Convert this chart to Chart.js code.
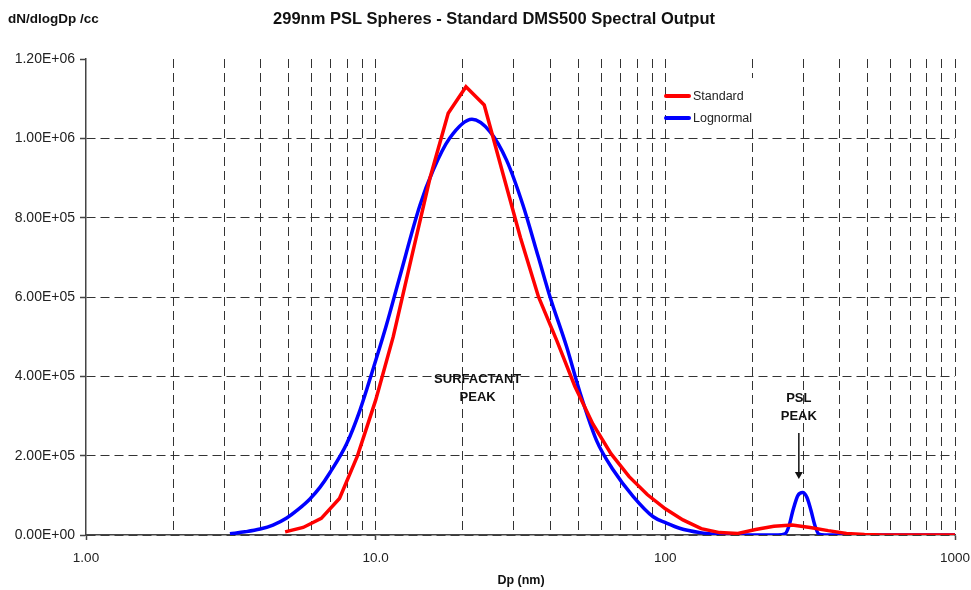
<!DOCTYPE html>
<html>
<head>
<meta charset="utf-8">
<script src="https://cdn.jsdelivr.net/npm/chart.js@4.4.0/dist/chart.umd.min.js"></script>
<style>
  html, body { margin: 0; padding: 0; background: #fff; }
</style>
</head>
<body>
<canvas id="myChart" width="971" height="590"></canvas>
<script>
// DMS500 size classes (nm) and the measured "Standard" spectrum
var sizesStd = [4.87, 5.62, 6.49, 7.50, 8.66, 10.0, 11.5, 13.3, 15.4, 17.8, 20.5, 23.7, 27.4, 31.6, 36.5, 42.2, 48.7, 56.2, 64.9, 75.0, 86.6, 100, 115, 133, 154, 178, 205, 237, 274, 316, 365, 422, 487, 562, 649, 750, 866, 1000];
var standard = [8e3, 1.9e4, 4.2e4, 9.2e4, 2.0e5, 3.4e5, 5.0e5, 7.0e5, 9.0e5, 1.063e6, 1.13e6, 1.084e6, 9.15e5, 7.5e5, 6.0e5, 4.9e5, 3.75e5, 2.8e5, 2.05e5, 1.47e5, 1.02e5, 6.6e4, 3.8e4, 1.6e4, 6e3, 4e3, 1.4e4, 2.2e4, 2.5e4, 1.9e4, 1.1e4, 4e3, 1e3, 0, 0, 0, 0, 0];

// lognormal fit
var sizesLog = [3.14, 3.54, 3.99, 4.42, 4.93, 5.39, 5.93, 6.42, 6.95, 7.94, 8.83, 9.81, 10.9, 12.1, 14.2, 15.8, 18.0, 21.5, 24.8, 28.3, 32.3, 36.4, 40.0, 45.6, 50.7, 57.9, 66.1, 77.5, 90.8, 101, 112, 132, 150, 181, 245, 259, 267, 276, 287, 298, 308, 318, 329, 339, 355, 400, 500, 700, 1000];
var lognormal = [3e3, 8e3, 1.5e4, 2.5e4, 4.3e4, 6.4e4, 9.1e4, 1.2e5, 1.57e5, 2.3e5, 3.15e5, 4.2e5, 5.3e5, 6.5e5, 8.3e5, 9.2e5, 1.0e6, 1.048e6, 1.017e6, 9.45e5, 8.3e5, 7.02e5, 6.0e5, 4.75e5, 3.6e5, 2.38e5, 1.64e5, 9.7e4, 4.6e4, 3.0e4, 1.7e4, 6e3, 2e3, 0, 0, 3e3, 2.2e4, 6.3e4, 1.0e5, 1.07e5, 9.5e4, 6.3e4, 2.2e4, 2e3, 0, 0, 0, 0, 0];

// axis ticks
var xTicks = [1, 2, 3, 4, 5, 6, 7, 8, 9, 10, 20, 30, 40, 50, 60, 70, 80, 90, 100, 200, 300, 400, 500, 600, 700, 800, 900, 1000];
var xMajor = [1, 10, 100, 1000];
var xTickLabels = ['1.00', '10.0', '100', '1000'];

function sci(v){
    if (v === 0) return '0.00E+00';
    var e = Math.floor(Math.log10(v) + 1e-9);
    var m = v / Math.pow(10, e);
    return m.toFixed(2) + 'E+' + String(e).padStart(2, '0');
}

function pts(xs, ys){
    return xs.map(function(x, i){ return {x: x, y: ys[i]}; });
}

var FONT = '"Liberation Sans", Arial, sans-serif';

// titles, legend and the two peak notes
var extras = {
    id: 'extras',
    afterDraw: function(chart){
        var ctx = chart.ctx;
        var xs = chart.scales.x, ys = chart.scales.y;
        ctx.save();
        ctx.fillStyle = '#111';
        ctx.textAlign = 'center';
        ctx.textBaseline = 'alphabetic';
        ctx.font = 'bold 16.5px ' + FONT;
        ctx.fillText('299nm PSL Spheres - Standard DMS500 Spectral Output', 494, 24);

        ctx.textAlign = 'left';
        ctx.font = 'bold 13.5px ' + FONT;
        ctx.fillText('dN/dlogDp /cc', 8, 23);

        ctx.textAlign = 'center';
        ctx.font = 'bold 12.5px ' + FONT;
        ctx.fillText('Dp (nm)', 521, 584);

        // notes
        ctx.textBaseline = 'middle';
        ctx.font = 'bold 13px ' + FONT;
        var sx = xs.getPixelForValue(22.5);
        ctx.fillText('SURFACTANT', sx, ys.getPixelForValue(3.91e5));
        ctx.fillText('PEAK', sx, ys.getPixelForValue(3.48e5));
        var px = xs.getPixelForValue(289);
        ctx.fillText('PSL', px, ys.getPixelForValue(3.45e5));
        ctx.fillText('PEAK', px, ys.getPixelForValue(3.0e5));

        // arrow
        var a0 = ys.getPixelForValue(2.57e5), a1 = ys.getPixelForValue(1.41e5);
        ctx.strokeStyle = '#111';
        ctx.lineWidth = 1.5;
        ctx.beginPath();
        ctx.moveTo(px, a0);
        ctx.lineTo(px, a1 - 6);
        ctx.stroke();
        ctx.beginPath();
        ctx.moveTo(px - 4, a1 - 7);
        ctx.lineTo(px + 4, a1 - 7);
        ctx.lineTo(px, a1);
        ctx.closePath();
        ctx.fill();

        // legend box (white, hides the grid behind it)
        ctx.fillStyle = '#fff';
        ctx.fillRect(667, 78, 96, 50);
        ctx.textAlign = 'left';
        ctx.font = '12.5px ' + FONT;
        chart.data.datasets.forEach(function(ds, i){
            var y = 96 + i * 22;
            ctx.strokeStyle = ds.borderColor;
            ctx.lineWidth = 4;
            ctx.lineCap = 'round';
            ctx.beginPath();
            ctx.moveTo(666, y);
            ctx.lineTo(689, y);
            ctx.stroke();
            ctx.fillStyle = '#222';
            ctx.fillText(ds.label, 693, y + 1);
        });
        ctx.restore();
    }
};

var ctx = document.getElementById('myChart').getContext('2d');
var myChart = new Chart(ctx, {
    type: 'line',
    data: {
        datasets: [{
            label: 'Standard',
            data: pts(sizesStd, standard),
            borderColor: '#ff0000',
            borderWidth: 3.5,
            pointRadius: 0,
            tension: 0,
            fill: false
        }, {
            label: 'Lognormal',
            data: pts(sizesLog, lognormal),
            borderColor: '#0000ff',
            borderWidth: 3.5,
            pointRadius: 0,
            cubicInterpolationMode: 'monotone',
            fill: false
        }]
    },
    options: {
        responsive: false,
        animation: false,
        devicePixelRatio: 1,
        layout: { padding: { top: 59, right: 16, left: 0, bottom: 0 } },
        plugins: {
            legend: { display: false },
            title: { display: false },
            tooltip: { enabled: false }
        },
        scales: {
            x: {
                type: 'logarithmic',
                min: 1,
                max: 1000,
                afterBuildTicks: function(s){
                    s.ticks = xTicks.map(function(v){ return {value: v}; });
                },
                afterFit: function(s){
                    s.height = 55;
                    s.paddingLeft = 0;
                    s.paddingRight = 0;
                },
                ticks: {
                    autoSkip: false,
                    maxRotation: 0,
                    padding: 10,
                    color: '#222',
                    font: { family: FONT, size: 13.5 },
                    callback: function(v){
                        var k = xMajor.indexOf(v);
                        return k >= 0 ? xTickLabels[k] : '';
                    }
                },
                grid: {
                    color: function(c){
                        return (c.tick && c.tick.value === 1) ? 'rgba(0,0,0,0)' : '#333';
                    },
                    lineWidth: 1,
                    tickLength: 5,
                    tickWidth: 1.5,
                    tickColor: function(c){
                        return (c.tick && xMajor.indexOf(c.tick.value) >= 0) ? '#444' : 'rgba(0,0,0,0)';
                    }
                },
                border: { display: true, color: '#444', width: 1.5, dash: [9, 5] }
            },
            y: {
                min: 0,
                max: 1.2e6,
                afterFit: function(s){
                    s.width = 86;
                    s.paddingTop = 0;
                    s.paddingBottom = 0;
                },
                ticks: {
                    stepSize: 2e5,
                    padding: 5,
                    color: '#222',
                    font: { family: FONT, size: 14 },
                    callback: function(v){ return sci(v); }
                },
                grid: {
                    color: function(c){
                        return (c.tick && c.tick.value >= 1.2e6) ? 'rgba(0,0,0,0)' : '#333';
                    },
                    lineWidth: 1,
                    tickLength: 6,
                    tickWidth: 1.5,
                    tickColor: '#444'
                },
                border: { display: true, color: '#444', width: 1.5, dash: [9, 5] }
            }
        }
    },
    plugins: [extras]
});
</script>
</body>
</html>
